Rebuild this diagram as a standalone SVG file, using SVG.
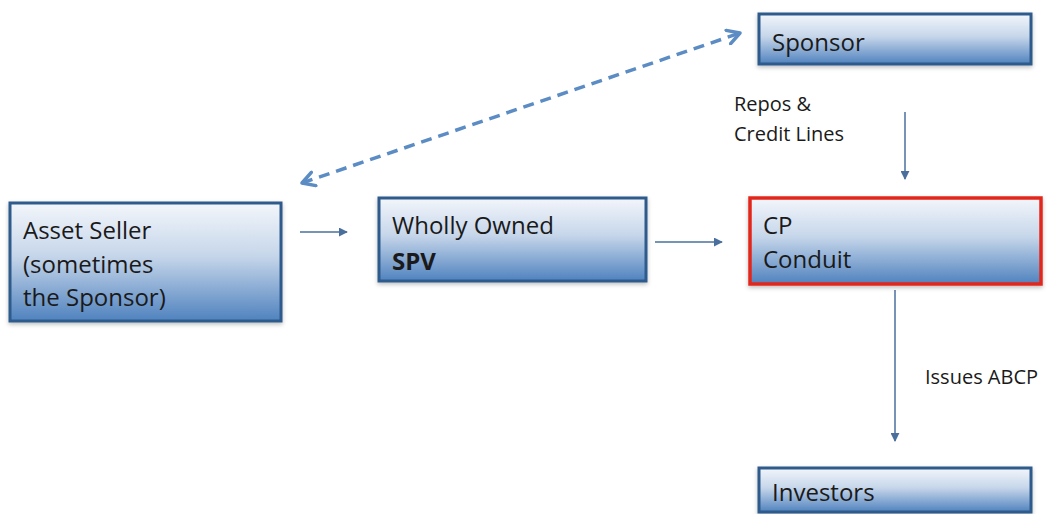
<svg xmlns="http://www.w3.org/2000/svg" width="1052" height="514" viewBox="0 0 1052 514">
  <defs>
    <linearGradient id="boxFill" x1="0" y1="0" x2="0" y2="1">
      <stop offset="0" stop-color="#f3f6fb"/>
      <stop offset="0.45" stop-color="#c6d6ea"/>
      <stop offset="1" stop-color="#4f82be"/>
    </linearGradient>
    <filter id="shadow" x="-5%" y="-10%" width="110%" height="130%">
      <feDropShadow dx="0" dy="2" stdDeviation="2" flood-color="#000" flood-opacity="0.25"/>
    </filter>
    <marker id="head" viewBox="0 0 10 10" refX="9" refY="5" markerWidth="9" markerHeight="9" markerUnits="userSpaceOnUse" orient="auto">
      <path d="M0,0 L10,5 L0,10 z" fill="#4a6f9c"/>
    </marker>
    <marker id="dashHead" viewBox="0 0 10 10" refX="8" refY="5" markerWidth="5" markerHeight="5" orient="auto-start-reverse">
      <path d="M1,1 L8,5 L1,9" fill="none" stroke="#5b8cc4" stroke-width="2" stroke-linecap="round" stroke-linejoin="round"/>
    </marker>
  </defs>
  <style>
    .box { fill: url(#boxFill); stroke: #2d5a8c; stroke-width: 3; filter: url(#shadow); }
    .hot { stroke: #e3271b; stroke-width: 3.5; }
    .lbl { font-family: "Open Sans", "Liberation Sans", sans-serif; font-size: 24px; fill: #1a1a1a; }
    .small { font-family: "Open Sans", "Liberation Sans", sans-serif; font-size: 20px; fill: #1a1a1a; }
    .link { stroke: #4a6f9c; stroke-width: 1.5; fill: none; marker-end: url(#head); }
    .dash { stroke: #5b8cc4; stroke-width: 3.5; fill: none; stroke-dasharray: 11 7; marker-start: url(#dashHead); marker-end: url(#dashHead); }
  </style>
  <rect width="1052" height="514" fill="#ffffff"/>

  <g id="connectors">
    <line class="dash" x1="302" y1="183" x2="740" y2="33"/>
    <line class="link" x1="300" y1="232" x2="347" y2="232"/>
    <line class="link" x1="655" y1="242" x2="722" y2="242"/>
    <line class="link" x1="905" y1="112" x2="905" y2="179"/>
    <line class="link" x1="895" y1="290" x2="895" y2="441"/>
    <text class="small" x="734" y="111">Repos &amp;</text>
    <text class="small" x="734" y="141">Credit Lines</text>
    <text class="small" x="925" y="384">Issues ABCP</text>
  </g>

  <g id="asset-seller">
    <rect class="box" x="10" y="203" width="271" height="118"/>
    <text class="lbl" x="23" y="239">Asset Seller</text>
    <text class="lbl" x="23" y="273">(sometimes</text>
    <text class="lbl" x="23" y="306">the Sponsor)</text>
  </g>

  <g id="spv">
    <rect class="box" x="379" y="198" width="267" height="83"/>
    <text class="lbl" x="392" y="234">Wholly Owned</text>
    <text class="lbl" x="392" y="270" font-weight="bold">SPV</text>
  </g>

  <g id="cp-conduit">
    <rect class="box hot" x="750" y="198" width="291" height="86"/>
    <text class="lbl" x="763" y="234">CP</text>
    <text class="lbl" x="763" y="268">Conduit</text>
  </g>

  <g id="sponsor">
    <rect class="box" x="759" y="14" width="272" height="50"/>
    <text class="lbl" x="772" y="51">Sponsor</text>
  </g>

  <g id="investors">
    <rect class="box" x="759" y="468" width="272" height="44"/>
    <text class="lbl" x="772" y="501">Investors</text>
  </g>
</svg>
